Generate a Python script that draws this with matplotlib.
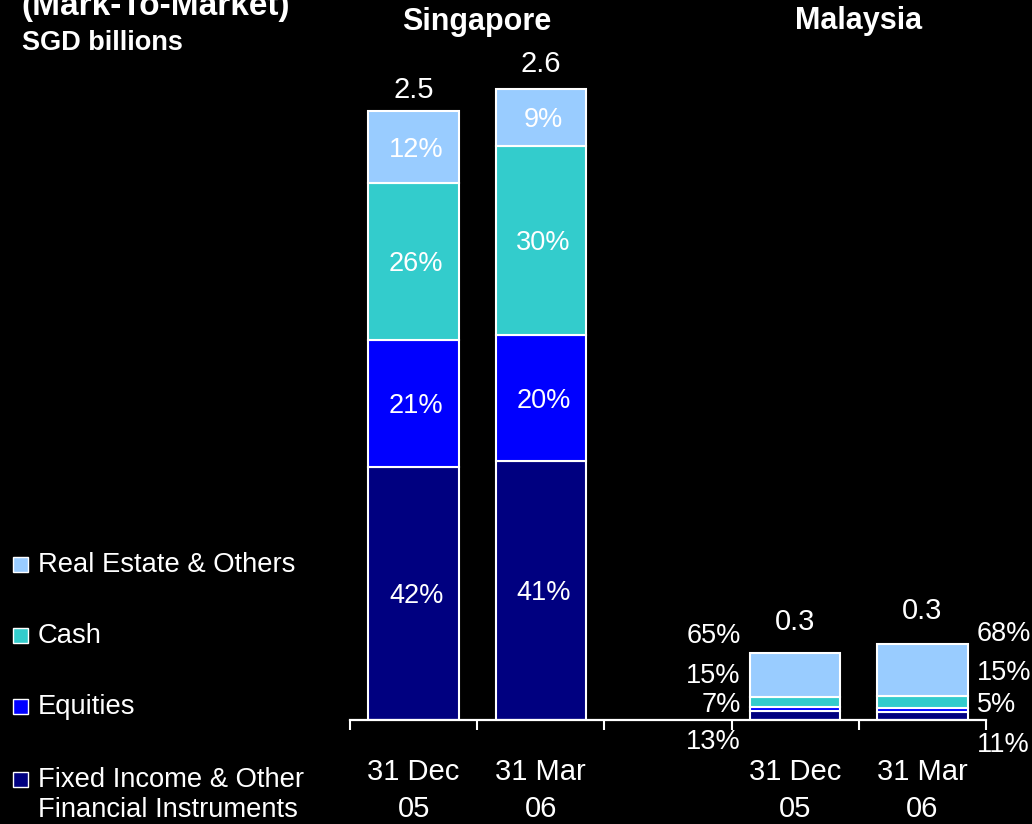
import matplotlib
matplotlib.use("Agg")
import matplotlib.pyplot as plt
from matplotlib.patches import Rectangle
from matplotlib.transforms import blended_transform_factory

plt.rcParams['font.family'] = ['Liberation Sans', 'DejaVu Sans']

# ---------------- data ----------------
regions = ["Singapore", "Malaysia"]
period_labels = ["31 Dec\n05", "31 Mar\n06", "31 Dec\n05", "31 Mar\n06"]
bar_slots = [0, 1, 3, 4]
totals = [2.50, 2.59, 0.275, 0.31]          # SGD billions
total_labels = ["2.5", "2.6", "0.3", "0.3"]

series_names = ["Fixed Income & Other\nFinancial Instruments", "Equities", "Cash",
                "Real Estate & Others"]
fixed_income = [42, 41, 13, 11]
equities = [21, 20, 7, 5]
cash = [26, 30, 15, 15]
real_estate = [12, 9, 65, 68]
series_pcts = [fixed_income, equities, cash, real_estate]
series_colors = ["#000080", "#0000FF", "#33CCCC", "#99CCFF"]

# ---------------- figure ----------------
W, H = 1032, 824
fig = plt.figure(figsize=(W / 100, H / 100), dpi=100, facecolor="black")
ax = fig.add_axes([350 / W, 104 / H, 636 / W, 720 / H])
ax.set_facecolor("black")
ax.set_xlim(-0.5, 4.5)
ax.set_ylim(0, 720 / 243.6)

bar_w = 0.71
sums = [sum(s[i] for s in series_pcts) for i in range(len(totals))]
bottoms = [0.0] * len(totals)
seg_info = []
for name, pcts, col in zip(series_names, series_pcts, series_colors):
    heights = [totals[i] * pcts[i] / sums[i] for i in range(len(totals))]
    ax.bar(bar_slots, heights, width=bar_w, bottom=bottoms, color=col,
           edgecolor="white", linewidth=1.5, zorder=2)
    seg_info.append((pcts, list(bottoms), heights))
    bottoms = [b + h for b, h in zip(bottoms, heights)]

# percentage labels inside Singapore bars
for pcts, bots, hts in seg_info:
    for i in (0, 1):
        ax.text(bar_slots[i] + 0.02, bots[i] + hts[i] / 2 - 0.01, f"{pcts[i]}%",
                color="white", fontsize=19.5, ha="center", va="center", zorder=3)

# Malaysia side labels (layout positions for the stacked series, bottom -> top)
left_label_y = [-0.09, 0.062, 0.18, 0.345]
right_label_y = [-0.103, 0.062, 0.193, 0.353]
for k, (pcts, bots, hts) in enumerate(seg_info):
    ax.text(bar_slots[2] - bar_w / 2 - 0.075, left_label_y[k], f"{pcts[2]}%",
            color="white", fontsize=19.5, ha="right", va="center", clip_on=False)
    ax.text(bar_slots[3] + bar_w / 2 + 0.075, right_label_y[k], f"{pcts[3]}%",
            color="white", fontsize=19.5, ha="left", va="center", clip_on=False)

# totals above bars
total_offsets = [9.5, 12.5, 16.5, 18.5]   # points above bar top
for x, t, lab, off in zip(bar_slots, bottoms, total_labels, total_offsets):
    ax.annotate(lab, (x, t), xytext=(0, off), textcoords="offset points",
                ha="center", va="baseline", color="white", fontsize=21)

# axes styling
for s in ("left", "right", "top"):
    ax.spines[s].set_visible(False)
ax.spines["bottom"].set_color("white")
ax.spines["bottom"].set_linewidth(1.6)
ax.set_yticks([])
ax.set_xticks(bar_slots)
ax.set_xticklabels(period_labels, fontsize=21, color="white", linespacing=1.45)
ax.tick_params(axis="x", which="major", length=0, pad=27)
ax.set_xticks([-0.5, 0.5, 1.5, 2.5, 3.5, 4.5], minor=True)
ax.tick_params(axis="x", which="minor", length=7.5, width=1.5, color="white",
               direction="out")

# region headings
tr = blended_transform_factory(ax.transData, fig.transFigure)
ax.text(0.5, 1 - 30 / H, regions[0], transform=tr, ha="center", va="baseline",
        color="white", fontsize=22, fontweight="bold")
ax.text(3.5, 1 - 29 / H, regions[1], transform=tr, ha="center", va="baseline",
        color="white", fontsize=22, fontweight="bold")

# titles top-left
fig.text(21 / W, 1 - 15 / H, "(Mark-To-Market)", ha="left", va="baseline",
         color="white", fontsize=24, fontweight="bold")
fig.text(22 / W, 1 - 50 / H, "SGD billions", ha="left", va="baseline",
         color="white", fontsize=19.5, fontweight="bold")

# legend (manual, top to bottom)
legend_baselines = [572, 643, 714, 787]
for name, col, yb in zip(series_names[::-1], series_colors[::-1], legend_baselines):
    fig.patches.append(Rectangle((13 / W, 1 - yb / H), 15 / W, 15 / H,
                                 transform=fig.transFigure, facecolor=col,
                                 edgecolor="white", linewidth=1))
    lines = name.split("\n")
    for j, ln in enumerate(lines):
        fig.text(38 / W, 1 - (yb + 30 * j) / H, ln, ha="left", va="baseline",
                 color="white", fontsize=19.7)

fig.savefig("out.png", dpi=100, facecolor="black")
